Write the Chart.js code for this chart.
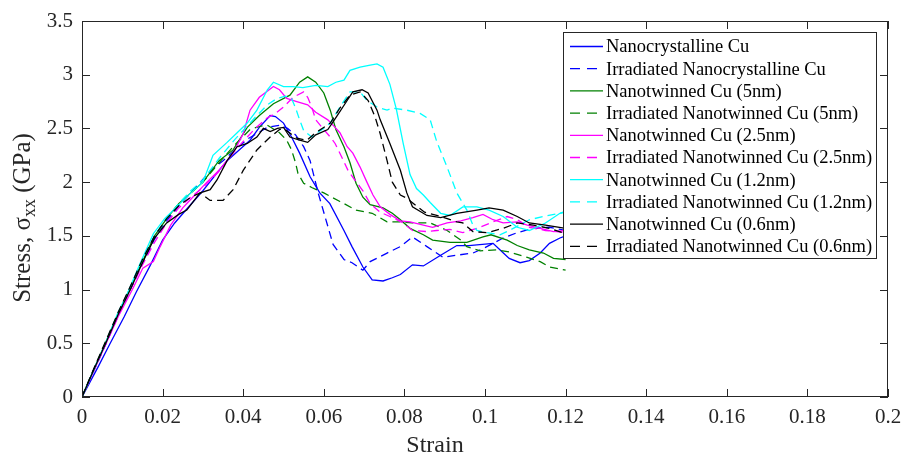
<!DOCTYPE html>
<html>
<head>
<meta charset="utf-8">
<script src="https://cdn.jsdelivr.net/npm/chart.js@4.4.0/dist/chart.umd.min.js"></script>
<style>
  html, body { margin: 0; padding: 0; background: #fff; }
  #wrap { width: 903px; height: 456px; position: relative; }
</style>
</head>
<body>
<div id="wrap"><canvas id="chart"></canvas></div>
<script>
// [strain, stress GPa]
const nanoCu = [[0,0],[0.004,0.28],[0.007,0.5],[0.0105,0.75],[0.0135,0.98],[0.017,1.23],[0.02,1.46],[0.023,1.62],[0.026,1.75],[0.03,1.92],[0.034,2.11],[0.036,2.2],[0.039,2.3],[0.0417,2.39],[0.044,2.51],[0.0467,2.62],[0.048,2.61],[0.05,2.55],[0.052,2.42],[0.054,2.27],[0.0566,2.05],[0.059,1.9],[0.0615,1.8],[0.065,1.55],[0.067,1.4],[0.0697,1.21],[0.072,1.09],[0.0747,1.08],[0.077,1.11],[0.079,1.14],[0.082,1.23],[0.0847,1.22],[0.089,1.32],[0.093,1.41],[0.096,1.41],[0.102,1.43],[0.1037,1.37],[0.106,1.29],[0.1087,1.25],[0.111,1.27],[0.1137,1.34],[0.116,1.43],[0.1186,1.48],[0.12,1.5]];
const irrNanoCu = [[0,0],[0.003,0.25],[0.006,0.5],[0.009,0.76],[0.012,1.0],[0.015,1.24],[0.018,1.47],[0.021,1.64],[0.024,1.78],[0.027,1.9],[0.0318,2.1],[0.035,2.2],[0.038,2.3],[0.041,2.4],[0.046,2.51],[0.049,2.53],[0.051,2.5],[0.053,2.44],[0.055,2.33],[0.0566,2.2],[0.0586,1.9],[0.0623,1.42],[0.065,1.28],[0.067,1.25],[0.0697,1.18],[0.0715,1.26],[0.0757,1.34],[0.079,1.4],[0.082,1.49],[0.0856,1.4],[0.0896,1.3],[0.093,1.32],[0.097,1.34],[0.1,1.39],[0.1045,1.48],[0.108,1.53],[0.112,1.57],[0.116,1.58],[0.12,1.55]];
const nt5 = [[0,0],[0.003,0.26],[0.006,0.52],[0.009,0.78],[0.012,1.02],[0.015,1.26],[0.018,1.5],[0.021,1.66],[0.024,1.8],[0.027,1.9],[0.03,2.0],[0.034,2.2],[0.0375,2.3],[0.041,2.51],[0.044,2.62],[0.0475,2.73],[0.0516,2.81],[0.054,2.93],[0.056,2.98],[0.058,2.93],[0.06,2.83],[0.0616,2.67],[0.063,2.49],[0.065,2.33],[0.0665,2.18],[0.068,1.99],[0.0697,1.86],[0.0715,1.79],[0.0747,1.76],[0.077,1.71],[0.079,1.65],[0.0814,1.57],[0.0847,1.51],[0.087,1.46],[0.0913,1.44],[0.0955,1.44],[0.0995,1.49],[0.1015,1.51],[0.1055,1.46],[0.108,1.41],[0.111,1.37],[0.1145,1.34],[0.117,1.29],[0.12,1.28]];
const irrNt5 = [[0,0],[0.003,0.26],[0.006,0.51],[0.009,0.77],[0.012,1.01],[0.015,1.25],[0.018,1.49],[0.021,1.66],[0.024,1.8],[0.027,1.9],[0.03,2.0],[0.034,2.18],[0.038,2.35],[0.0417,2.49],[0.0442,2.52],[0.046,2.53],[0.049,2.46],[0.0508,2.39],[0.052,2.3],[0.053,2.18],[0.0536,2.08],[0.055,1.99],[0.057,1.95],[0.06,1.9],[0.064,1.82],[0.068,1.74],[0.072,1.71],[0.0757,1.63],[0.079,1.63],[0.082,1.62],[0.0864,1.62],[0.0906,1.55],[0.094,1.46],[0.0955,1.4],[0.0988,1.36],[0.103,1.37],[0.106,1.35],[0.1105,1.3],[0.1137,1.26],[0.116,1.21],[0.12,1.18]];
const nt25 = [[0,0],[0.003,0.25],[0.006,0.5],[0.009,0.75],[0.0125,1.0],[0.0151,1.2],[0.0177,1.26],[0.0194,1.4],[0.022,1.6],[0.025,1.76],[0.028,1.88],[0.031,2.0],[0.034,2.11],[0.0375,2.27],[0.04,2.45],[0.0417,2.67],[0.044,2.79],[0.0475,2.89],[0.049,2.86],[0.0508,2.78],[0.0533,2.75],[0.056,2.72],[0.058,2.65],[0.061,2.58],[0.0628,2.51],[0.064,2.46],[0.0658,2.33],[0.0672,2.27],[0.069,2.14],[0.0707,2.0],[0.0722,1.88],[0.074,1.77],[0.0764,1.7],[0.079,1.64],[0.0814,1.63],[0.0847,1.6],[0.087,1.58],[0.0906,1.62],[0.094,1.64],[0.097,1.67],[0.0995,1.7],[0.102,1.65],[0.1045,1.62],[0.108,1.63],[0.1105,1.6],[0.1137,1.57],[0.117,1.54],[0.12,1.55]];
const irrNt25 = [[0,0],[0.003,0.25],[0.006,0.5],[0.009,0.76],[0.012,1.0],[0.015,1.23],[0.018,1.44],[0.021,1.62],[0.024,1.76],[0.027,1.86],[0.03,1.95],[0.034,2.1],[0.037,2.25],[0.04,2.38],[0.043,2.5],[0.046,2.6],[0.048,2.64],[0.05,2.7],[0.0524,2.79],[0.055,2.84],[0.056,2.79],[0.057,2.7],[0.058,2.58],[0.06,2.49],[0.0616,2.42],[0.0628,2.36],[0.0645,2.23],[0.066,2.11],[0.0677,2.02],[0.0697,1.92],[0.0715,1.8],[0.074,1.72],[0.0764,1.68],[0.0797,1.62],[0.082,1.55],[0.0856,1.54],[0.088,1.55],[0.0913,1.56],[0.0945,1.53],[0.098,1.57],[0.102,1.63],[0.1055,1.68],[0.108,1.65],[0.111,1.58],[0.115,1.55],[0.12,1.53]];
const nt12 = [[0,0],[0.003,0.26],[0.006,0.52],[0.009,0.79],[0.0111,0.95],[0.0145,1.25],[0.0177,1.52],[0.0205,1.66],[0.0235,1.77],[0.027,1.9],[0.03,2.0],[0.0325,2.25],[0.036,2.37],[0.0385,2.46],[0.041,2.55],[0.0434,2.67],[0.046,2.86],[0.0475,2.93],[0.05,2.89],[0.0524,2.89],[0.0548,2.88],[0.058,2.9],[0.061,2.89],[0.063,2.93],[0.065,2.95],[0.0665,3.04],[0.069,3.07],[0.0715,3.09],[0.0732,3.1],[0.0747,3.07],[0.0764,2.91],[0.078,2.68],[0.0797,2.36],[0.0814,2.07],[0.083,1.94],[0.0847,1.88],[0.0864,1.81],[0.089,1.71],[0.0913,1.69],[0.0945,1.77],[0.098,1.77],[0.101,1.74],[0.1045,1.68],[0.108,1.58],[0.111,1.55],[0.115,1.62],[0.1186,1.71],[0.12,1.73]];
const irrNt12 = [[0,0],[0.003,0.26],[0.006,0.52],[0.009,0.78],[0.012,1.02],[0.015,1.27],[0.018,1.5],[0.021,1.66],[0.024,1.8],[0.027,1.92],[0.03,2.02],[0.034,2.22],[0.038,2.4],[0.0434,2.62],[0.046,2.72],[0.0484,2.78],[0.0505,2.8],[0.052,2.78],[0.053,2.69],[0.054,2.58],[0.055,2.48],[0.057,2.42],[0.058,2.45],[0.06,2.5],[0.0616,2.55],[0.064,2.7],[0.0665,2.84],[0.069,2.84],[0.0707,2.76],[0.0732,2.7],[0.0757,2.67],[0.077,2.69],[0.0806,2.67],[0.0839,2.64],[0.0864,2.58],[0.088,2.38],[0.0906,2.14],[0.093,1.9],[0.0955,1.74],[0.097,1.6],[0.098,1.55],[0.1005,1.53],[0.1037,1.51],[0.106,1.55],[0.111,1.65],[0.1145,1.68],[0.1186,1.71],[0.12,1.72]];
const nt06 = [[0,0],[0.003,0.26],[0.006,0.51],[0.009,0.77],[0.012,1.0],[0.015,1.25],[0.018,1.48],[0.021,1.62],[0.024,1.7],[0.026,1.74],[0.0293,1.9],[0.0318,1.93],[0.0335,2.02],[0.036,2.2],[0.0385,2.33],[0.041,2.36],[0.0434,2.42],[0.045,2.5],[0.0467,2.47],[0.0485,2.5],[0.05,2.51],[0.0516,2.42],[0.054,2.39],[0.056,2.37],[0.058,2.44],[0.061,2.49],[0.063,2.6],[0.0658,2.76],[0.0672,2.84],[0.0695,2.86],[0.071,2.83],[0.0732,2.67],[0.074,2.58],[0.0764,2.36],[0.079,2.11],[0.0806,1.9],[0.082,1.77],[0.0856,1.69],[0.089,1.67],[0.093,1.71],[0.098,1.74],[0.101,1.76],[0.1045,1.74],[0.108,1.68],[0.111,1.62],[0.115,1.6],[0.12,1.57]];
const irrNt06 = [[0,0],[0.003,0.27],[0.006,0.53],[0.009,0.79],[0.012,1.03],[0.015,1.28],[0.018,1.5],[0.021,1.66],[0.024,1.78],[0.027,1.86],[0.0293,1.9],[0.0318,1.83],[0.035,1.83],[0.0375,1.93],[0.04,2.11],[0.0434,2.3],[0.0467,2.42],[0.049,2.49],[0.05,2.5],[0.0533,2.41],[0.0558,2.39],[0.058,2.46],[0.0616,2.55],[0.064,2.69],[0.0665,2.81],[0.069,2.84],[0.071,2.76],[0.0727,2.61],[0.074,2.45],[0.0757,2.2],[0.077,2.0],[0.079,1.88],[0.0806,1.85],[0.085,1.72],[0.089,1.68],[0.093,1.63],[0.0945,1.62],[0.097,1.54],[0.1005,1.53],[0.1045,1.57],[0.108,1.62],[0.112,1.6],[0.116,1.57],[0.12,1.52]];

const seriesNames = [
    'Nanocrystalline Cu',
    'Irradiated Nanocrystalline Cu',
    'Nanotwinned Cu (5nm)',
    'Irradiated Nanotwinned Cu (5nm)',
    'Nanotwinned Cu (2.5nm)',
    'Irradiated Nanotwinned Cu (2.5nm)',
    'Nanotwinned Cu (1.2nm)',
    'Irradiated Nanotwinned Cu (1.2nm)',
    'Nanotwinned Cu (0.6nm)',
    'Irradiated Nanotwinned Cu (0.6nm)'
];
const seriesData = [nanoCu, irrNanoCu, nt5, irrNt5, nt25, irrNt25, nt12, irrNt12, nt06, irrNt06];
const seriesColors = ['#0000ff', '#0000ff', '#008000', '#008000', '#ff00ff', '#ff00ff', '#00ffff', '#00ffff', '#000000', '#000000'];
const seriesDashed = [false, true, false, true, false, true, false, true, false, true];

const xTicks = [0, 0.02, 0.04, 0.06, 0.08, 0.1, 0.12, 0.14, 0.16, 0.18, 0.2];
const xTickLabels = ['0', '0.02', '0.04', '0.06', '0.08', '0.1', '0.12', '0.14', '0.16', '0.18', '0.2'];
const yTicks = [0, 0.5, 1, 1.5, 2, 2.5, 3, 3.5];
const yTickLabels = ['0', '0.5', '1', '1.5', '2', '2.5', '3', '3.5'];

const SERIF = '"Liberation Serif", "Times New Roman", serif';
const AXIS = '#262626';

const datasets = seriesData.map((pts, i) => ({
    label: seriesNames[i],
    data: pts.map(p => ({ x: p[0], y: p[1] })),
    borderColor: seriesColors[i],
    borderWidth: 1.3,
    borderDash: seriesDashed[i] ? [8, 5] : [],
    pointRadius: 0,
    tension: 0,
    fill: false,
    order: seriesData.length - i
}));

// frame, inward ticks, axis titles and the boxed legend
const decorations = {
    id: 'decorations',
    afterDraw(chart) {
        const ctx = chart.ctx;
        const a = chart.chartArea;
        const xs = chart.scales.x, ys = chart.scales.y;
        ctx.save();
        ctx.strokeStyle = AXIS;
        ctx.lineWidth = 1;
        ctx.setLineDash([]);
        ctx.strokeRect(a.left + 0.5, a.top + 0.5, a.right - a.left - 1, a.bottom - a.top - 1);
        ctx.beginPath();
        xTicks.forEach(v => {
            const px = Math.round(xs.getPixelForValue(v)) + 0.5;
            ctx.moveTo(px, a.bottom); ctx.lineTo(px, a.bottom - 8);
            ctx.moveTo(px, a.top); ctx.lineTo(px, a.top + 8);
        });
        yTicks.forEach(v => {
            const py = Math.round(ys.getPixelForValue(v)) + 0.5;
            ctx.moveTo(a.left, py); ctx.lineTo(a.left + 8, py);
            ctx.moveTo(a.right, py); ctx.lineTo(a.right - 8, py);
        });
        ctx.stroke();

        // x title
        ctx.fillStyle = AXIS;
        ctx.font = '24px ' + SERIF;
        ctx.textAlign = 'center';
        ctx.textBaseline = 'alphabetic';
        ctx.fillText('Strain', 435, 452);

        // y title with subscript
        const big = '25px ' + SERIF, small = '18px ' + SERIF;
        const p1 = 'Stress, \u03c3', p2 = 'xx', p3 = ' (GPa)';
        ctx.font = big; const w1 = ctx.measureText(p1).width, w3 = ctx.measureText(p3).width;
        ctx.font = small; const w2 = ctx.measureText(p2).width;
        ctx.translate(30, 218);
        ctx.rotate(-Math.PI / 2);
        ctx.textAlign = 'left';
        let sx = -(w1 + w2 + w3) / 2;
        ctx.font = big; ctx.fillText(p1, sx, 0); sx += w1;
        ctx.font = small; ctx.fillText(p2, sx, 5); sx += w2;
        ctx.font = big; ctx.fillText(p3, sx, 0);
        ctx.setTransform(1, 0, 0, 1, 0, 0);
        ctx.restore();

        // legend
        ctx.save();
        ctx.fillStyle = '#ffffff';
        ctx.fillRect(563, 32, 313, 226);
        ctx.strokeStyle = AXIS;
        ctx.lineWidth = 1;
        ctx.strokeRect(563.5, 32.5, 313, 226);
        ctx.font = '18.5px ' + SERIF;
        ctx.textAlign = 'left';
        ctx.textBaseline = 'middle';
        seriesNames.forEach((name, i) => {
            const ry = 46.5 + i * 22.2;
            ctx.beginPath();
            ctx.strokeStyle = seriesColors[i];
            ctx.lineWidth = 1.3;
            ctx.setLineDash(seriesDashed[i] ? [10, 7] : []);
            ctx.moveTo(570, ry); ctx.lineTo(603, ry);
            ctx.stroke();
            ctx.fillStyle = '#000000';
            ctx.fillText(name, 606, ry + 1);
        });
        ctx.restore();
    }
};

const config = {
    type: 'line',
    data: { datasets: datasets },
    options: {
        responsive: false,
        animation: false,
        layout: { padding: { top: 21, right: 15, left: 0, bottom: 0 } },
        scales: {
            x: {
                type: 'linear',
                min: 0,
                max: 0.2,
                afterBuildTicks: s => { s.ticks = xTicks.map(v => ({ value: v })); },
                afterFit: s => { s.height = 59; s.paddingLeft = 0; s.paddingRight = 0; },
                grid: { display: false, drawTicks: false },
                border: { display: false },
                ticks: {
                    padding: 8,
                    maxRotation: 0,
                    autoSkip: false,
                    color: AXIS,
                    font: { family: SERIF, size: 21 },
                    callback: (v, i) => xTickLabels[i]
                }
            },
            y: {
                min: 0,
                max: 3.5,
                afterBuildTicks: s => { s.ticks = yTicks.map(v => ({ value: v })); },
                afterFit: s => { s.width = 82; s.paddingTop = 0; s.paddingBottom = 0; },
                grid: { display: false, drawTicks: false },
                border: { display: false },
                ticks: {
                    padding: 9,
                    autoSkip: false,
                    color: AXIS,
                    font: { family: SERIF, size: 21 },
                    callback: (v, i) => yTickLabels[i]
                }
            }
        },
        plugins: {
            legend: { display: false },
            tooltip: { enabled: false }
        }
    },
    plugins: [decorations]
};

const canvas = document.getElementById('chart');
canvas.width = 903;
canvas.height = 456;
canvas.style.width = '903px';
canvas.style.height = '456px';
const stressChart = new Chart(canvas, config);
</script>
</body>
</html>
